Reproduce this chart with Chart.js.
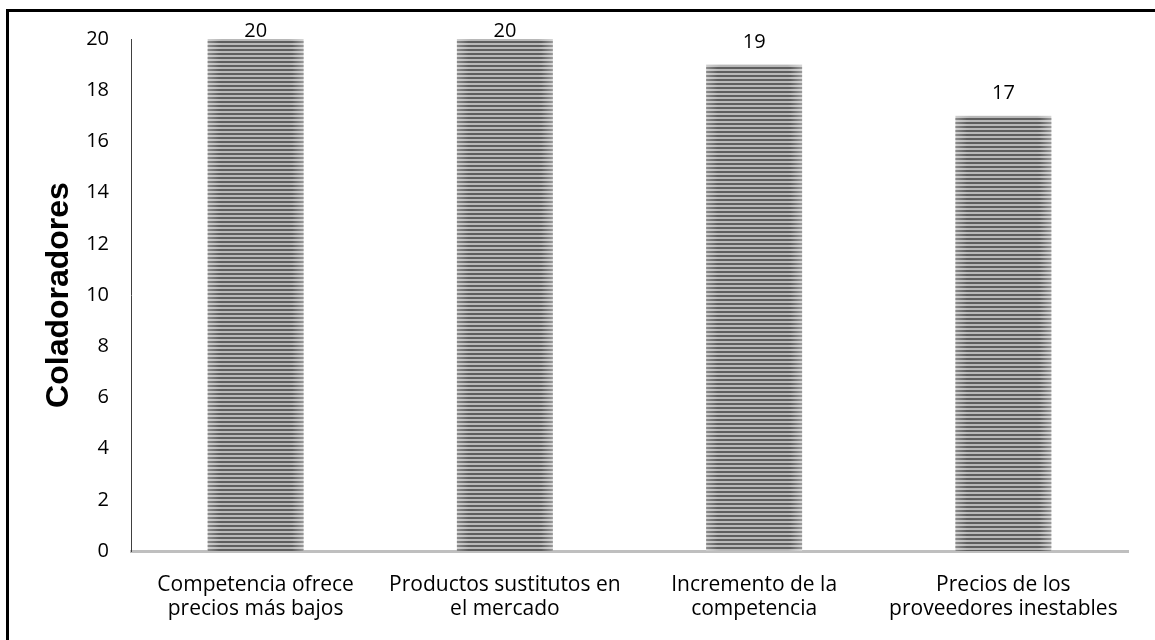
<!DOCTYPE html>
<html>
<head>
<meta charset="utf-8">
<script src="https://cdn.jsdelivr.net/npm/chart.js@4/dist/chart.umd.min.js"></script>
<style>
  html, body { margin: 0; padding: 0; background: #ffffff; }
  #wrap { width: 1155px; height: 640px; position: relative; }
</style>
</head>
<body>
<div id="wrap"><canvas id="c" width="1155" height="640"></canvas></div>
<script>
// Categories (two-line labels) and counts
const categories = [
  ['Competencia ofrece', 'precios más bajos'],
  ['Productos sustitutos en', 'el mercado'],
  ['Incremento de la', 'competencia'],
  ['Precios de los', 'proveedores inestables']
];
const colaboradores = [20, 20, 19, 17];
const yTicks = [0, 2, 4, 6, 8, 10, 12, 14, 16, 18, 20];

const FONT = '"Open Sans", "DejaVu Sans", sans-serif';

// Frame lines around the figure
const framePlugin = {
  id: 'frame',
  beforeDraw(chart) {
    const ctx = chart.ctx;
    ctx.save();
    ctx.fillStyle = '#ffffff';
    ctx.fillRect(0, 0, chart.width, chart.height);
    ctx.fillStyle = '#000000';
    ctx.fillRect(6, 9, chart.width - 6, 3);
    ctx.fillRect(6, 9, 3, chart.height - 9);
    ctx.restore();
  }
};

// Striped fill with a soft horizontal shading on every bar
const stripePlugin = {
  id: 'stripes',
  afterDatasetsDraw(chart) {
    const ctx = chart.ctx;
    const meta = chart.getDatasetMeta(0);
    ctx.save();
    meta.data.forEach((bar) => {
      const left = bar.x - bar.width / 2;
      const right = bar.x + bar.width / 2;
      const top = bar.y;
      const bottom = bar.base;
      const light = ctx.createLinearGradient(left, 0, right, 0);
      light.addColorStop(0, '#cfcfcf');
      light.addColorStop(0.15, '#b8b8b8');
      light.addColorStop(0.85, '#b8b8b8');
      light.addColorStop(1, '#d6d6d6');
      ctx.fillStyle = light;
      ctx.fillRect(left, top, right - left, bottom - top);
      const dark = ctx.createLinearGradient(left, 0, right, 0);
      dark.addColorStop(0, '#8c8c8c');
      dark.addColorStop(0.12, '#5e5e5e');
      dark.addColorStop(0.88, '#5e5e5e');
      dark.addColorStop(1, '#9a9a9a');
      ctx.fillStyle = dark;
      for (let y = Math.round(top) + 2; y < bottom; y += 4) {
        ctx.fillRect(left, y, right - left, Math.min(2, bottom - y));
      }
    });
    ctx.restore();
  }
};

// Value labels above the bars, kept inside the top of the figure
const valueLabelPlugin = {
  id: 'valueLabels',
  afterDatasetsDraw(chart) {
    const ctx = chart.ctx;
    const meta = chart.getDatasetMeta(0);
    ctx.save();
    ctx.font = '20px ' + FONT;
    ctx.fillStyle = '#000000';
    ctx.textAlign = 'center';
    ctx.textBaseline = 'alphabetic';
    meta.data.forEach((bar, i) => {
      const baseline = Math.max(bar.y - 17, 37);
      ctx.fillText(String(colaboradores[i]), bar.x, baseline);
    });
    ctx.restore();
  }
};

new Chart(document.getElementById('c'), {
  type: 'bar',
  data: {
    labels: categories,
    datasets: [{
      data: colaboradores,
      backgroundColor: 'rgba(0,0,0,0)',
      borderWidth: 0,
      barPercentage: 0.385,
      categoryPercentage: 1.0
    }]
  },
  options: {
    responsive: false,
    animation: false,
    devicePixelRatio: 1,
    layout: { padding: { left: 0, right: 27, top: 39, bottom: 0 } },
    plugins: {
      legend: { display: false },
      tooltip: { enabled: false }
    },
    scales: {
      x: {
        grid: { display: false, drawTicks: false },
        border: { display: true, color: '#bfbfbf', width: 3 },
        ticks: {
          color: '#000000',
          font: { family: FONT, size: 21, lineHeight: 1.15 },
          padding: 22,
          maxRotation: 0,
          autoSkip: false
        },
        afterFit(scale) { scale.height = 640 - 551; }
      },
      y: {
        min: 0,
        max: 20,
        afterBuildTicks(scale) { scale.ticks = yTicks.map(v => ({ value: v })); },
        grid: { display: false, drawTicks: false },
        border: { display: true, color: '#404040', width: 1 },
        ticks: {
          color: '#000000',
          font: { family: FONT, size: 20 },
          padding: 22
        },
        title: {
          display: true,
          text: 'Coladoradores',
          color: '#000000',
          font: { family: '"Liberation Sans", Arial, sans-serif', size: 32, weight: 'bold' },
          padding: { top: 40, bottom: 0 }
        },
        afterFit(scale) { scale.width = 131; }
      }
    }
  },
  plugins: [framePlugin, stripePlugin, valueLabelPlugin]
});
</script>
</body>
</html>
